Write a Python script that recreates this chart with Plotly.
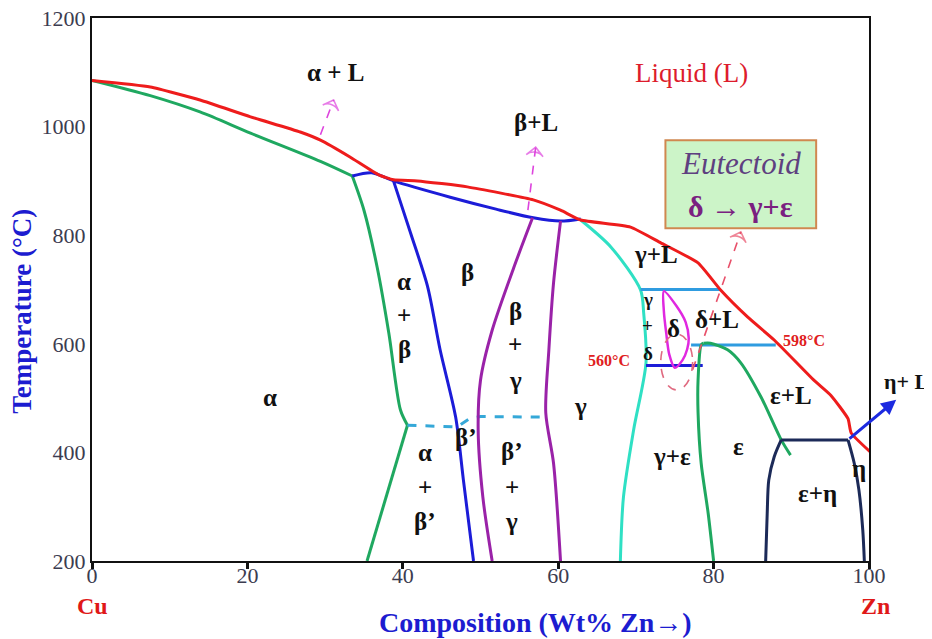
import plotly.graph_objects as go

# ---------------- data ----------------
liq_x = [0, 7.5, 13.9, 20.4, 26.8, 29.4, 33.2, 36.9, 38.8, 41.9, 48.3, 56.8, 60.3, 62.9, 69.3, 73.2, 78.0, 80.9, 84.4, 87.8, 92.9, 95.1, 97.3, 97.7, 100.3]
liq_t = [1085, 1073, 1049, 1018, 990, 975, 944, 911, 902, 900, 889, 865, 846, 828, 815, 786, 749, 699, 649, 607, 533, 505, 462, 436, 399]

sol_a_x = [0, 7.5, 13.9, 20.4, 29.4, 33.5]
sol_a_t = [1085, 1057, 1027, 988, 936, 909]

solv_a_up_x = [33.5, 35.0, 36.7, 38.2, 39.7, 40.6]
solv_a_up_t = [909, 846, 741, 620, 478, 450]
solv_a_lo_x = [40.6, 35.4]
solv_a_lo_t = [450, 200]

beta_top_x = [33.5, 36.0, 38.8, 46.1, 52.0, 56.8, 60.3, 62.9]
beta_top_t = [909, 915, 900, 870, 848, 832, 826, 830]

beta_left_x = [38.8, 41.0, 43.2, 44.8, 46.8, 47.8, 49.1]
beta_left_t = [900, 804, 705, 589, 465, 349, 200]

order_x = [40.6, 47.0, 48.7, 50.0, 58.6]
order_t = [450, 447, 463, 466, 465]

bg_left_x = [56.7, 54.3, 51.5, 50.0, 49.7, 50.3, 51.5]
bg_left_t = [832, 741, 625, 533, 441, 318, 200]
bg_right_x = [60.3, 59.4, 58.8, 58.4, 59.4, 60.3]
bg_right_t = [826, 712, 589, 473, 380, 200]

gam_x = [62.9, 66.8, 70.6, 71.0, 71.3, 69.7, 68.4, 68.0]
gam_t = [828, 778, 699, 657, 565, 441, 318, 200]

peri700_x = [70.6, 80.9]
peri700_t = [700, 700]
peri598_x = [77.1, 88.0]
peri598_t = [598, 598]
eutd560_x = [71.3, 78.6]
eutd560_t = [560, 560]

delta_x = [73.6, 75.2, 76.4, 76.8, 76.6, 76.0, 75.0, 74.3, 73.9, 73.6, 73.6]
delta_t = [697, 670, 640, 610, 590, 570, 556, 580, 620, 660, 697]

ge_x = [78.7, 78.4, 78.0, 78.0, 78.4, 79.3, 80.0]
ge_t = [601, 598, 533, 473, 380, 288, 200]

eps_x = [78.7, 79.6, 81.8, 83.5, 86.1, 88.7, 89.9]
eps_t = [601, 601, 589, 565, 502, 423, 395]

eut424_x = [88.7, 97.3]
eut424_t = [423, 423]
en_left_x = [88.7, 87.8, 87.1, 86.9, 86.7]
en_left_t = [423, 392, 349, 288, 200]
eta_x = [97.3, 98.1, 98.7, 99.2, 99.4]
eta_t = [423, 380, 331, 257, 200]

arrow_aL_x = [29.4, 31.1]
arrow_aL_t = [985, 1049]
arrow_bL_x = [56.1, 57.1]
arrow_bL_t = [846, 962]
arrow_eut_x = [77.3, 83.5]
arrow_eut_t = [552, 806]

x_ticks = [0, 20, 40, 60, 80, 100]
y_ticks = [200, 400, 600, 800, 1000, 1200]

labels_text = ["α + L", "β+L", "β", "α", "+", "β", "β", "+", "γ", "α", "γ", "β’",
               "α", "+", "β’", "β’", "+", "γ", "γ+L", "δ", "δ+L", "ε+L", "γ+ε", "ε", "η", "ε+η"]
labels_x = [31.3, 57.1, 48.3, 40.2, 40.2, 40.2, 54.5, 54.5, 54.5, 22.9, 62.9, 48.1,
            42.8, 42.8, 42.8, 54.0, 54.0, 54.0, 72.6, 74.9, 80.5, 89.9, 74.7, 83.2, 98.7, 93.4]
labels_t = [1099, 1008, 732, 714, 653, 589, 659, 598, 533, 502, 484, 428,
            399, 336, 272, 401, 336, 272, 764, 629, 644, 504, 392, 410, 371, 325]

small_text = ["γ", "+", "δ"]
small_x = [71.5, 71.5, 71.6]
small_t = [681, 633, 583]

temp_text = ["598°C", "560°C"]
temp_x = [91.6, 66.5]
temp_t = [607, 569]

# ---------------- figure ----------------
SERIF = "Liberation Serif"
fig = go.Figure()

def line(x, y, color, width=3, shape="spline", dash="solid", smooth=0.8, clip=True):
    kw = dict(color=color, width=width, dash=dash, shape=shape)
    if shape == "spline":
        kw["smoothing"] = smooth
    fig.add_trace(go.Scatter(x=x, y=y, mode="lines", line=kw, hoverinfo="skip",
                             showlegend=False, cliponaxis=clip))

RED = "#ee1c1c"
GREEN = "#1fa860"
BLUE = "#1c1cd8"
PURPLE = "#9a22a8"
TURQ = "#2fe0c4"
LBLUE = "#2f9ce0"
NAVY = "#1c2a58"
MAG = "#e028e0"

line(sol_a_x, sol_a_t, GREEN)
line(solv_a_up_x, solv_a_up_t, GREEN)
line(solv_a_lo_x, solv_a_lo_t, GREEN, shape="linear")
line(beta_top_x, beta_top_t, BLUE)
line(beta_left_x, beta_left_t, BLUE)
line(order_x, order_t, "#35a8d8", dash="dash", shape="linear")
line(bg_left_x, bg_left_t, PURPLE)
line(bg_right_x, bg_right_t, PURPLE)
line(gam_x, gam_t, TURQ)
line(peri700_x, peri700_t, LBLUE, shape="linear")
line(peri598_x, peri598_t, LBLUE, shape="linear")
line(eutd560_x, eutd560_t, BLUE, shape="linear")
line(delta_x, delta_t, MAG, width=2.5)
line(ge_x, ge_t, GREEN)
line(eps_x, eps_t, GREEN)
line(eut424_x, eut424_t, NAVY, shape="linear")
line(en_left_x, en_left_t, NAVY)
line(eta_x, eta_t, NAVY)
line(liq_x, liq_t, RED, smooth=0.45, clip=False)

def dashed_arrow(x, y, color):
    fig.add_trace(go.Scatter(
        x=x, y=y, mode="lines+markers",
        line=dict(color=color, width=1.6, dash="dash"),
        marker=dict(symbol="arrow-wide-open", size=[0, 12], angleref="previous",
                    color=color, line=dict(color=color, width=1.6)),
        hoverinfo="skip", showlegend=False))

dashed_arrow(arrow_aL_x, arrow_aL_t, "#dd44dd")
dashed_arrow(arrow_bL_x, arrow_bL_t, "#dd44dd")
dashed_arrow(arrow_eut_x, arrow_eut_t, "#e8506a")

# dashed ellipse around the eutectoid point
fig.add_shape(type="circle", xref="x", yref="y", x0=73.2, x1=77.3, y0=515, y1=618,
              line=dict(color="#e06a80", width=1.6, dash="dash"))

# eutectoid box
fig.add_shape(type="rect", xref="x", yref="y", x0=73.8, x1=93.2, y0=813, y1=975,
              fillcolor="#ccf4c8", line=dict(color="#d08850", width=2), layer="above")
fig.add_annotation(x=83.5, y=932, xref="x", yref="y", text="<i>Eutectoid</i>", showarrow=False,
                   font=dict(family=SERIF, size=31, color="#5e4080"))
fig.add_annotation(x=83.5, y=853, xref="x", yref="y", text="<b>δ</b> → <b>γ+ε</b>", showarrow=False,
                   font=dict(family=SERIF, size=30, color="#7a2080"))

# eta + L arrow
fig.add_annotation(x=103.5, y=497, ax=97.3, ay=423, xref="x", yref="y", axref="x", ayref="y",
                   text="", showarrow=True, arrowhead=2, arrowsize=1, arrowwidth=3,
                   arrowcolor="#1c2ae0")
fig.add_annotation(x=1.048, y=0.33, xref="paper", yref="paper", text="<b>η+ L</b>", showarrow=False,
                   xanchor="center", yanchor="middle",
                   font=dict(family=SERIF, size=22, color="#111111"))

# region labels
for t, x, y in zip(labels_text, labels_x, labels_t):
    fig.add_annotation(x=x, y=y, xref="x", yref="y", text="<b>" + t + "</b>", showarrow=False,
                       font=dict(family=SERIF, size=25, color="#111111"))
for t, x, y in zip(small_text, small_x, small_t):
    fig.add_annotation(x=x, y=y, xref="x", yref="y", text="<b>" + t + "</b>", showarrow=False,
                       font=dict(family=SERIF, size=19, color="#111111"))
for t, x, y in zip(temp_text, temp_x, temp_t):
    fig.add_annotation(x=x, y=y, xref="x", yref="y", text="<b>" + t + "</b>", showarrow=False,
                       font=dict(family=SERIF, size=16, color="#e02020"))

fig.add_annotation(x=77.1, y=1099, xref="x", yref="y", text="Liquid (L)", showarrow=False,
                   font=dict(family=SERIF, size=27, color="#dd1c2c"))

# element labels and axis titles
fig.add_annotation(x=0, y=-0.082, xref="x", yref="paper", text="<b>Cu</b>", showarrow=False,
                   xanchor="center", yanchor="middle",
                   font=dict(family=SERIF, size=24, color="#e01818"))
fig.add_annotation(x=1.008, y=-0.082, xref="paper", yref="paper", text="<b>Zn</b>", showarrow=False,
                   xanchor="center", yanchor="middle",
                   font=dict(family=SERIF, size=24, color="#e01818"))
fig.add_annotation(x=0.571, y=-0.114, xref="paper", yref="paper", text="<b>Composition (Wt% Zn→)</b>",
                   showarrow=False, xanchor="center", yanchor="middle",
                   font=dict(family=SERIF, size=28, color="#1c1cd0"))
fig.add_annotation(x=-0.09, y=0.459, xref="paper", yref="paper", text="<b>Temperature (°C)</b>",
                   textangle=-90, showarrow=False, xanchor="center", yanchor="middle",
                   font=dict(family=SERIF, size=27, color="#1c1cd0"))

fig.update_xaxes(range=[0, 100], tickvals=x_ticks, ticks="outside", ticklen=6, tickwidth=3,
                 tickcolor="#111111", showline=True, linecolor="#111111", linewidth=2, mirror=True,
                 showgrid=False, zeroline=False, automargin=False, ticklabelstandoff=-12,
                 ticklabeloverflow="allow",
                 tickfont=dict(family=SERIF, size=22, color="#3c3c50"))
fig.update_yaxes(range=[200, 1200], tickvals=y_ticks, ticks="", showline=True, linecolor="#111111",
                 linewidth=2, mirror=True, showgrid=False, zeroline=False, automargin=False,
                 ticklabeloverflow="allow",
                 tickfont=dict(family=SERIF, size=22, color="#3c3c50"))

fig.update_layout(width=932, height=639, margin=dict(l=84, r=71, t=10, b=86),
                  plot_bgcolor="white", paper_bgcolor="white", showlegend=False)

fig.write_html("out.html")
